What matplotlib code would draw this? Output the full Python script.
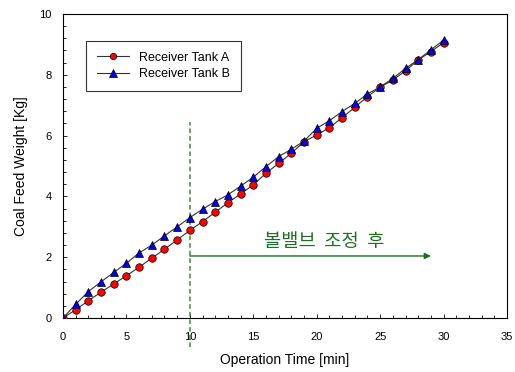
import matplotlib
matplotlib.use("Agg")

import matplotlib.pyplot as plt
from matplotlib.ticker import MultipleLocator

plt.rcParams['font.family'] = ['Liberation Sans', 'Noto Sans CJK KR', 'DejaVu Sans']

# tiempo de operacion [min]
time = list(range(0, 31))
tank_a = [0.0, 0.27, 0.57, 0.85, 1.12, 1.39, 1.67, 1.97, 2.26, 2.57,
          2.88, 3.17, 3.48, 3.79, 4.08, 4.38, 4.76, 5.09, 5.42, 5.80,
          6.02, 6.26, 6.59, 6.93, 7.28, 7.59, 7.83, 8.13, 8.49, 8.76, 9.06]
tank_b = [0.0, 0.45, 0.87, 1.19, 1.50, 1.80, 2.14, 2.40, 2.70, 3.00,
          3.30, 3.58, 3.83, 4.05, 4.34, 4.63, 4.98, 5.31, 5.55, 5.82,
          6.24, 6.49, 6.79, 7.06, 7.37, 7.60, 7.88, 8.21, 8.50, 8.82, 9.14]

valve_time = 10
arrow_end = 29
arrow_y = 2.04
annot_text = "볼밸브  조정  후"

fig = plt.figure(figsize=(5.15, 3.72), dpi=100)
ax = fig.add_axes([0.1223, 0.1452, 0.8622, 0.8172])

ax.plot(time, tank_a, color='#333333', lw=0.8, marker='o', ms=5.4,
        mfc='red', mec='black', mew=0.5, label='Receiver Tank A', zorder=3)
ax.plot(time, tank_b, color='#333333', lw=0.8, marker='^', ms=6.4,
        mfc='#0000ee', mec='black', mew=0.5, label='Receiver Tank B', zorder=3)

# linea vertical (sale del eje)
ax.plot([valve_time, valve_time], [-0.95, 6.45], color='#3c8c3c', lw=1.1,
        ls=(0, (3, 2)), clip_on=False, zorder=2)

# flecha y texto
ax.annotate('', xy=(arrow_end, arrow_y), xytext=(valve_time, arrow_y),
            arrowprops=dict(arrowstyle='-|>', color='#1a6e1a', lw=1.0,
                            mutation_scale=9, shrinkA=0, shrinkB=0))
ax.text(20.6, 2.5, annot_text, color='#1e701e', fontsize=13.5,
        family=['Noto Sans CJK KR', 'DejaVu Sans'], ha='center', va='center')

ax.set_xlim(0, 35)
ax.set_ylim(0, 10)
ax.xaxis.set_major_locator(MultipleLocator(5))
ax.xaxis.set_minor_locator(MultipleLocator(1))
ax.yaxis.set_major_locator(MultipleLocator(2))
ax.yaxis.set_minor_locator(MultipleLocator(0.4))
ax.tick_params(which='both', direction='in', labelsize=8, width=0.6)
ax.tick_params(which='major', length=3)
ax.tick_params(which='minor', length=2)
ax.tick_params(axis='x', which='major', pad=10)
ax.tick_params(axis='y', which='major', pad=8)
for s in ax.spines.values():
    s.set_linewidth(0.8)

ax.set_xlabel('Operation Time [min]', fontsize=10, labelpad=8)
ax.set_ylabel('Coal Feed Weight [Kg]', fontsize=10, labelpad=8)

leg = ax.legend(loc='upper left', bbox_to_anchor=(0.052, 0.911), fontsize=9,
                frameon=True, fancybox=False, edgecolor='black',
                handlelength=2.6, borderpad=0.85, markerscale=0.85,
                labelspacing=0.35, borderaxespad=0)
leg.get_frame().set_linewidth(0.8)

fig.savefig('out.png', dpi=100)
